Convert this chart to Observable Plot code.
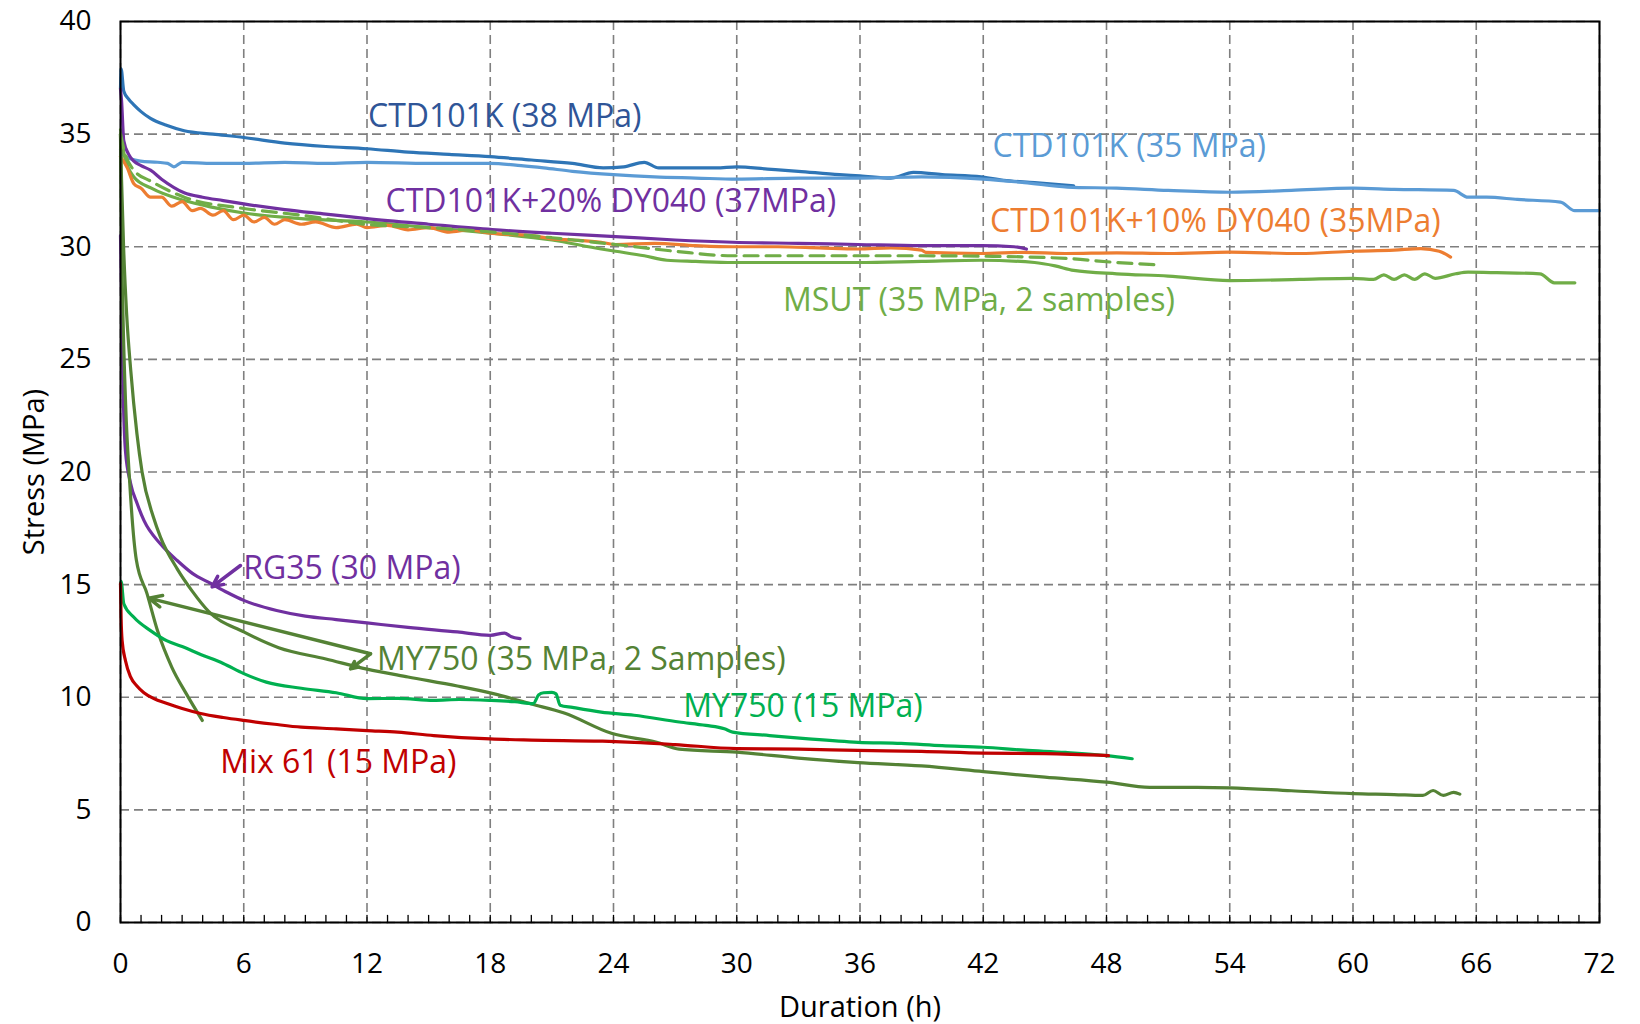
<!DOCTYPE html>
<html><head><meta charset="utf-8">
<script src="https://cdn.jsdelivr.net/npm/d3@7"></script>
<script src="https://cdn.jsdelivr.net/npm/@observablehq/plot@0.6"></script>
<style>body{margin:0;background:#fff;}</style>
</head><body><div id="chart"></div>
<script>
// ---- data (hours, MPa) ----
const ctd38_t = [0, 0.03, 0.16, 0.4, 0.65, 1.0, 1.46, 2.2, 3.1, 4.5, 6.0, 8.0, 10.0, 12.0, 14.0, 16.0, 18.0, 20.0, 22.0, 23.5, 24.5, 25.5, 26.2, 27.0, 29.0, 30.0, 31.5, 33.0, 35.0, 36.0, 37.5, 38.6, 40.0, 41.9, 43.0, 44.5, 46.4];
const ctd38_s = [37.0, 37.9, 36.9, 36.55, 36.3, 36.0, 35.7, 35.4, 35.15, 35.0, 34.85, 34.6, 34.45, 34.35, 34.2, 34.1, 34.0, 33.85, 33.7, 33.5, 33.55, 33.75, 33.5, 33.5, 33.5, 33.55, 33.45, 33.35, 33.2, 33.15, 33.05, 33.3, 33.2, 33.1, 32.95, 32.85, 32.7];

const ctd35_t = [0, 0.08, 0.97, 1.8, 2.3, 2.6, 3.0, 4.5, 6.0, 8.0, 10.0, 12.0, 15.0, 18.0, 19.5, 20.6, 22.0, 24.0, 26.0, 28.0, 30.0, 33.0, 36.0, 39.0, 42.0, 44.0, 46.1, 48.5, 51.0, 54.0, 57.0, 60.0, 62.0, 64.9, 65.6, 66.5, 68.0, 70.1, 70.8, 72.0];
const ctd35_s = [34.3, 34.1, 33.8, 33.75, 33.7, 33.55, 33.75, 33.7, 33.7, 33.75, 33.7, 33.75, 33.7, 33.7, 33.6, 33.5, 33.35, 33.2, 33.1, 33.05, 33.0, 33.05, 33.05, 33.1, 33.0, 32.85, 32.65, 32.6, 32.5, 32.42, 32.5, 32.6, 32.55, 32.5, 32.2, 32.2, 32.1, 31.98, 31.6, 31.6];

const dy10_t = [0, 0.33, 0.65, 1.0, 1.46, 2.0, 2.5, 3.0, 3.5, 3.9, 4.5, 5.0, 5.5, 6.0, 6.5, 7.0, 7.5, 8.0, 8.8, 9.5, 10.5, 11.5, 12.0, 13.0, 14.0, 15.0, 16.0, 17.0, 18.0, 19.0, 20.0, 21.0, 22.0, 23.4, 24.1, 26.0, 28.0, 29.8, 32.0, 34.0, 35.9, 37.5, 39.0, 39.2, 41.9, 44.0, 46.0, 48.5, 51.0, 54.0, 57.4, 60.0, 62.0, 63.3, 64.2, 64.75];
const dy10_s = [34.0, 33.5, 32.8, 32.6, 32.2, 32.2, 31.8, 32.0, 31.6, 31.7, 31.4, 31.6, 31.2, 31.4, 31.1, 31.3, 31.0, 31.2, 31.0, 31.1, 30.85, 31.0, 30.85, 30.95, 30.75, 30.85, 30.65, 30.75, 30.6, 30.55, 30.5, 30.35, 30.3, 30.2, 30.1, 30.15, 30.05, 30.0, 30.0, 29.95, 29.9, 29.95, 29.85, 29.75, 29.7, 29.75, 29.7, 29.73, 29.7, 29.76, 29.7, 29.8, 29.85, 29.92, 29.8, 29.54];

const dy20_t = [0, 0.05, 0.16, 0.4, 0.65, 1.0, 1.46, 2.0, 3.1, 4.0, 5.0, 6.0, 8.0, 10.0, 12.0, 15.0, 18.1, 21.0, 24.1, 27.0, 29.8, 33.0, 35.9, 39.0, 41.9, 43.5, 44.1];
const dy20_s = [37.0, 36.5, 34.7, 34.1, 33.8, 33.6, 33.4, 33.0, 32.4, 32.2, 32.05, 31.9, 31.65, 31.45, 31.25, 31.0, 30.76, 30.6, 30.45, 30.3, 30.2, 30.15, 30.1, 30.05, 30.05, 30.0, 29.9];

const msutA_t = [0, 0.2, 0.65, 1.5, 3.1, 4.5, 6.0, 8.8, 12.0, 15.0, 18.1, 21.0, 23.4, 24.1, 25.5, 26.6, 28.0, 29.8, 33.0, 35.9, 39.0, 41.9, 44.5, 45.5, 46.4, 48.5, 51.0, 54.0, 57.4, 60.0, 61.0, 61.5, 62.0, 62.5, 63.0, 63.5, 64.0, 65.0, 65.6, 67.0, 69.1, 69.8, 70.8];
const msutA_s = [35.2, 34.0, 33.1, 32.6, 32.05, 31.75, 31.5, 31.25, 31.1, 30.85, 30.6, 30.3, 29.9, 29.8, 29.6, 29.4, 29.35, 29.3, 29.3, 29.3, 29.35, 29.4, 29.3, 29.15, 28.95, 28.8, 28.7, 28.5, 28.55, 28.6, 28.55, 28.75, 28.55, 28.75, 28.55, 28.8, 28.6, 28.8, 28.87, 28.85, 28.8, 28.4, 28.4];

const msutB_t = [0, 0.2, 0.65, 1.5, 3.1, 6.0, 8.8, 11.9, 15.0, 18.1, 21.0, 24.1, 27.0, 29.8, 33.0, 35.9, 39.0, 41.9, 44.0, 46.1, 48.5, 50.5];
const msutB_s = [35.0, 34.2, 33.4, 32.9, 32.2, 31.7, 31.4, 31.0, 30.85, 30.65, 30.4, 30.1, 29.8, 29.6, 29.6, 29.6, 29.6, 29.58, 29.55, 29.48, 29.3, 29.2];

const rg35_t = [0, 0.05, 0.12, 0.24, 0.49, 0.81, 1.14, 1.95, 2.76, 3.5, 4.4, 5.2, 6.0, 7.6, 9.0, 10.5, 12.0, 14.0, 16.4, 18.0, 18.7, 19.0, 19.45];
const rg35_s = [30.5, 28.0, 24.0, 20.95, 19.5, 18.6, 17.85, 16.8, 16.07, 15.5, 15.05, 14.65, 14.3, 13.85, 13.6, 13.45, 13.3, 13.1, 12.9, 12.75, 12.85, 12.7, 12.6];

const my35A_t = [0, 0.05, 0.15, 0.3, 0.5, 0.8, 1.05, 1.6, 1.95, 2.76, 3.5, 4.3, 6.0, 7.7, 10.0, 12.0, 14.0, 16.4, 18.2, 20.0, 21.6, 23.9, 26.1, 27.2, 30.0, 33.0, 35.9, 39.0, 42.0, 45.0, 48.0, 50.1, 52.4, 54.0, 57.0, 60.0, 62.0, 63.4, 63.9, 64.4, 64.9, 65.2];
const my35A_s = [35.0, 33.0, 30.0, 27.0, 24.5, 21.7, 20.0, 18.0, 17.1, 15.7, 14.7, 13.8, 12.9, 12.2, 11.7, 11.25, 10.9, 10.5, 10.15, 9.7, 9.3, 8.4, 8.0, 7.7, 7.56, 7.3, 7.1, 6.95, 6.7, 6.45, 6.23, 6.0, 6.0, 5.98, 5.85, 5.72, 5.68, 5.64, 5.86, 5.64, 5.78, 5.7];

const my35B_t = [0, 0.04, 0.12, 0.25, 0.45, 0.77, 1.29, 1.8, 2.5, 3.2, 3.98];
const my35B_s = [35.0, 31.0, 27.0, 23.0, 19.5, 16.1, 14.6, 12.96, 11.33, 10.16, 8.97];

const my15_t = [0, 0.03, 0.16, 0.65, 1.46, 2.27, 3.0, 3.9, 5.0, 6.0, 7.1, 8.8, 10.5, 12.0, 13.5, 15.25, 16.5, 18.0, 19.2, 20.1, 20.35, 20.6, 21.0, 21.2, 21.4, 22.0, 23.4, 25.0, 27.2, 28.5, 29.4, 29.8, 31.6, 33.5, 35.9, 38.0, 40.0, 42.0, 44.0, 46.0, 48.0, 49.25];
const my15_s = [15.0, 15.15, 14.15, 13.55, 12.96, 12.5, 12.25, 11.9, 11.5, 11.05, 10.67, 10.4, 10.2, 9.94, 9.95, 9.86, 9.9, 9.86, 9.8, 9.72, 10.1, 10.2, 10.22, 10.15, 9.65, 9.55, 9.34, 9.2, 8.9, 8.75, 8.6, 8.45, 8.3, 8.15, 8.0, 7.95, 7.85, 7.78, 7.65, 7.55, 7.41, 7.27];

const mix61_t = [0, 0.03, 0.08, 0.24, 0.49, 0.8, 1.14, 1.6, 2.27, 3.0, 3.9, 5.0, 6.0, 7.5, 8.8, 10.5, 12.0, 13.5, 15.25, 18.0, 20.0, 23.4, 25.0, 27.0, 30.0, 33.0, 35.9, 39.0, 42.0, 45.0, 48.1];
const mix61_s = [15.05, 13.5, 12.5, 11.63, 10.9, 10.5, 10.2, 9.95, 9.72, 9.5, 9.28, 9.1, 8.97, 8.8, 8.67, 8.6, 8.52, 8.45, 8.3, 8.15, 8.1, 8.05, 8.0, 7.9, 7.72, 7.7, 7.64, 7.6, 7.52, 7.5, 7.41];

// series definitions: key, times, stresses, colour, dashed
const seriesKeys   = ["ctd38", "ctd35", "msutA", "msutB", "dy10", "dy20", "rg35", "my35A", "my35B", "my15", "mix61"];
const seriesTimes  = [ctd38_t, ctd35_t, msutA_t, msutB_t, dy10_t, dy20_t, rg35_t, my35A_t, my35B_t, my15_t, mix61_t];
const seriesStress = [ctd38_s, ctd35_s, msutA_s, msutB_s, dy10_s, dy20_s, rg35_s, my35A_s, my35B_s, my15_s, mix61_s];
const seriesColors = ["#2E75B6", "#5B9BD5", "#70AD47", "#70AD47", "#ED7D31", "#7030A0", "#7030A0", "#548235", "#548235", "#00B050", "#C00000"];
const seriesDashed = [false, false, false, true, false, false, false, false, false, false, false];

// annotation labels
const labelTexts  = ["CTD101K (38 MPa)", "CTD101K (35 MPa)", "CTD101K+20% DY040 (37MPa)", "CTD101K+10% DY040 (35MPa)", "MSUT (35 MPa, 2 samples)", "RG35 (30 MPa)", "MY750 (35 MPa, 2 Samples)", "MY750 (15 MPa)", "Mix 61 (15 MPa)"];
const labelX      = [12.05, 42.45, 12.9, 42.33, 32.25, 5.97, 12.49, 27.4, 4.85];
const labelY      = [35.78, 34.43, 32.0, 31.13, 27.6, 15.7, 11.67, 9.6, 7.08];
const labelColors = ["#2F5597", "#5B9BD5", "#7030A0", "#ED7D31", "#70AD47", "#7030A0", "#548235", "#00B050", "#C00000"];

// arrows
const arrowX1 = [5.84, 12.17, 12.17];
const arrowY1 = [15.85, 11.93, 11.93];
const arrowX2 = [4.46, 1.38, 11.2];
const arrowY2 = [14.9, 14.4, 11.26];
const arrowColors = ["#7030A0", "#548235", "#548235"];

// axes
const xTicks = d3.range(0, 73, 6);
const xMinorTicks = d3.range(0, 73, 1);
const yTicks = d3.range(0, 41, 5);
const xTitle = "Duration (h)";
const yTitle = "Stress (MPa)";

// ---- build tables ----
const points = [];
seriesKeys.forEach((k, i) => {
  seriesTimes[i].forEach((t, j) => points.push({series: k, t, s: seriesStress[i][j], color: seriesColors[i], dashed: seriesDashed[i]}));
});
const solidPts = points.filter(d => !d.dashed);
const dashedPts = points.filter(d => d.dashed);
const labels = labelTexts.map((text, i) => ({text, x: labelX[i], y: labelY[i], color: labelColors[i]}));
const arrows = arrowX1.map((x1, i) => ({x1, y1: arrowY1[i], x2: arrowX2[i], y2: arrowY2[i], color: arrowColors[i]}));

const font = "'Open Sans', sans-serif";

const chart = Plot.plot({
  width: 1640,
  height: 1024,
  marginLeft: 120,
  marginRight: 41,
  marginTop: 21,
  marginBottom: 102,
  style: {fontFamily: font, fontSize: "28px", color: "#000", background: "#fff"},
  x: {domain: [0, 72], ticks: xTicks},
  y: {domain: [0, 40], ticks: yTicks},
  marks: [
    Plot.gridX(xTicks, {stroke: "#7f7f7f", strokeOpacity: 1, strokeWidth: 1.6, strokeDasharray: "9,5"}),
    Plot.gridY(yTicks, {stroke: "#7f7f7f", strokeOpacity: 1, strokeWidth: 1.6, strokeDasharray: "9,5"}),
    Plot.axisX(xTicks, {tickSize: 0, tickPadding: 31, label: null, fontSize: 28}),
    Plot.axisY(yTicks, {tickSize: 0, tickPadding: 29, label: null, fontSize: 28}),
    Plot.vector(xMinorTicks, {x: d => d, frameAnchor: "bottom", length: 7, anchor: "start", stroke: "#000", strokeWidth: 1.3,
      shape: {draw(ctx, l) { ctx.moveTo(0, 0); ctx.lineTo(0, -l); }}}),
    Plot.line(solidPts, {x: "t", y: "s", z: "series", stroke: "color", strokeWidth: 3.2, strokeLinejoin: "round", curve: "monotone-x"}),
    Plot.line(dashedPts, {x: "t", y: "s", z: "series", stroke: "color", strokeWidth: 3.2, strokeDasharray: "14,8", curve: "monotone-x"}),
    Plot.arrow(arrows, {x1: "x1", y1: "y1", x2: "x2", y2: "y2", stroke: "color", strokeWidth: 3.5, headLength: 6, headAngle: 50, strokeLinejoin: "miter"}),
    Plot.text(labels, {x: "x", y: "y", text: "text", fill: "color", textAnchor: "start", lineAnchor: "middle", fontSize: 32}),
    Plot.frame({stroke: "#000", strokeWidth: 2}),
    Plot.text([xTitle], {frameAnchor: "bottom", dy: 85, text: d => d, fontSize: 29, textAnchor: "middle", lineAnchor: "middle"}),
    Plot.text([yTitle], {frameAnchor: "left", dx: -86, rotate: -90, text: d => d, fontSize: 29, textAnchor: "middle", lineAnchor: "middle"})
  ]
});
document.getElementById("chart").appendChild(chart);
</script>
</body></html>
